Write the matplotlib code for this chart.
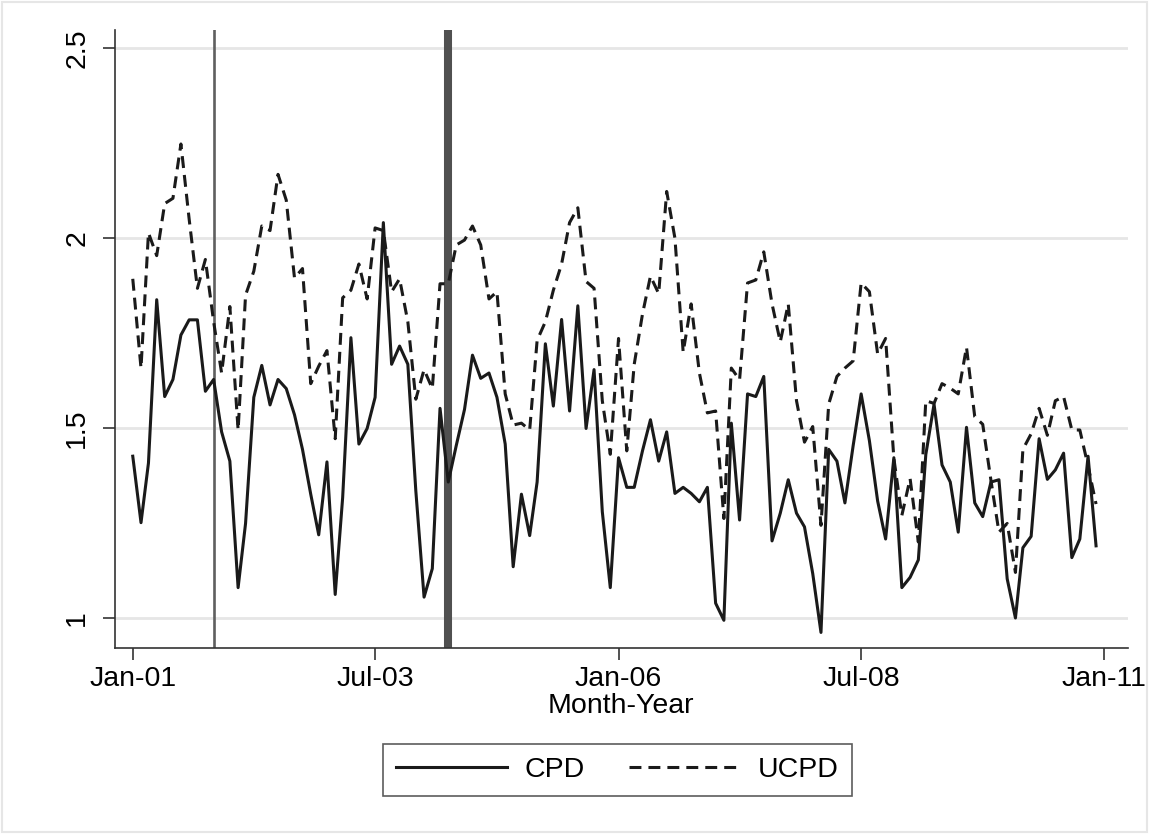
import numpy as np
import pandas as pd
import matplotlib
matplotlib.use("Agg")
import matplotlib.pyplot as plt
from matplotlib.patches import Rectangle

plt.rcParams['font.family'] = ['Liberation Sans', 'DejaVu Sans']

# monthly series, Jan-01 .. Dec-10
months = pd.date_range('2001-01-01', periods=120, freq='MS')

cpd = [1.426, 1.251, 1.408, 1.838, 1.583, 1.628, 1.745, 1.785, 1.785, 1.597,
       1.628, 1.490, 1.413, 1.080, 1.249, 1.581, 1.665, 1.561, 1.628, 1.604,
       1.535, 1.444, 1.326, 1.219, 1.411, 1.062, 1.317, 1.738, 1.458, 1.499,
       1.581, 2.041, 1.668, 1.716, 1.668, 1.335, 1.055, 1.130, 1.552, 1.358,
       1.454, 1.549, 1.692, 1.631, 1.645, 1.581, 1.458, 1.135, 1.326, 1.217,
       1.358, 1.722, 1.558, 1.786, 1.545, 1.822, 1.499, 1.654, 1.280, 1.080,
       1.422, 1.344, 1.344, 1.440, 1.522, 1.413, 1.490, 1.328, 1.344, 1.328,
       1.306, 1.344, 1.039, 0.994, 1.513, 1.258, 1.590, 1.583, 1.636, 1.203,
       1.276, 1.364, 1.276, 1.240, 1.117, 0.962, 1.444, 1.413, 1.303, 1.454,
       1.590, 1.467, 1.308, 1.208, 1.422, 1.080, 1.107, 1.153, 1.430, 1.563,
       1.403, 1.358, 1.226, 1.502, 1.303, 1.267, 1.358, 1.364, 1.103, 1.000,
       1.185, 1.215, 1.472, 1.365, 1.390, 1.434, 1.159, 1.208, 1.426, 1.190]

ucpd = [1.893, 1.658, 2.014, 1.954, 2.091, 2.105, 2.248, 2.050, 1.868, 1.944,
        1.780, 1.645, 1.820, 1.495, 1.850, 1.913, 2.032, 2.020, 2.168, 2.100,
        1.895, 1.920, 1.617, 1.663, 1.704, 1.472, 1.843, 1.863, 1.932, 1.840,
        2.027, 2.020, 1.859, 1.893, 1.780, 1.576, 1.654, 1.604, 1.880, 1.880,
        1.982, 1.995, 2.032, 1.982, 1.840, 1.859, 1.590, 1.508, 1.513, 1.495,
        1.731, 1.780, 1.863, 1.932, 2.041, 2.080, 1.886, 1.868, 1.572, 1.431,
        1.736, 1.440, 1.668, 1.800, 1.900, 1.854, 2.123, 2.000, 1.700, 1.827,
        1.645, 1.540, 1.545, 1.262, 1.658, 1.627, 1.882, 1.890, 1.964, 1.827,
        1.727, 1.827, 1.572, 1.463, 1.504, 1.244, 1.563, 1.636, 1.658, 1.677,
        1.882, 1.859, 1.695, 1.736, 1.420, 1.270, 1.367, 1.200, 1.572, 1.565,
        1.617, 1.605, 1.590, 1.713, 1.530, 1.510, 1.362, 1.226, 1.249, 1.120,
        1.444, 1.485, 1.552, 1.481, 1.572, 1.583, 1.495, 1.495, 1.400, 1.300]

tick_dates = ['2001-01-01', '2003-07-01', '2006-01-01', '2008-07-01', '2011-01-01']
tick_labels = ['Jan-01', 'Jul-03', 'Jan-06', 'Jul-08', 'Jan-11']
y_ticks = [1, 1.5, 2, 2.5]
y_labels = ['1', '1.5', '2', '2.5']
event_thin = '2001-11-01'
event_thick = '2004-04-01'

fs = 20.5

fig = plt.figure(figsize=(11.49, 8.34), dpi=100)
fig.patches.append(Rectangle((0.002, 0.002), 0.996, 0.996, transform=fig.transFigure,
                             fill=False, edgecolor='#e6e6e6', linewidth=1.5))
ax = fig.add_axes([0.0998, 0.223, 0.8819, 0.741])

ax.set_axisbelow(True)
ax.grid(axis='y', color='#e6e6e6', linewidth=2)

ax.plot(months, cpd, color='#1a1a1a', linewidth=2.2, label='CPD')
ax.plot(months, ucpd, color='#1a1a1a', linewidth=2.2, dashes=(3.9, 2.3), label='UCPD')

ax.axvline(pd.Timestamp(event_thin), color='#5f5f5f', linewidth=1.9, zorder=1)
ax.axvline(pd.Timestamp(event_thick), color='#505050', linewidth=5.8, zorder=1)

ax.set_xlim(pd.Timestamp('2000-10-25'), pd.Timestamp('2011-03-31'))
ax.set_ylim(0.921, 2.548)

ax.set_xticks([pd.Timestamp(d) for d in tick_dates])
ax.set_xticklabels(tick_labels)
ax.set_yticks(y_ticks)
ax.set_yticklabels(y_labels, rotation=90, va='center')

for s in ['top', 'right']:
    ax.spines[s].set_visible(False)
for s in ['left', 'bottom']:
    ax.spines[s].set_color('#333333')
    ax.spines[s].set_linewidth(1.2)
ax.tick_params(axis='both', labelsize=fs, length=8.6, width=1.2, color='#333333', pad=4)
ax.tick_params(axis='y', pad=9)

ax.set_xlabel('Month-Year', fontsize=fs, labelpad=1)

leg = fig.legend(loc='center', bbox_to_anchor=(0.5374, 0.0767), ncol=2, fontsize=fs,
                 frameon=True, fancybox=False, handlelength=3.9, columnspacing=1.55,
                 borderpad=0.45, handletextpad=0.63, borderaxespad=0)
leg.get_frame().set_edgecolor('#333333')
leg.get_frame().set_linewidth(1.2)

fig.savefig('out.png', dpi=100, facecolor='white')
